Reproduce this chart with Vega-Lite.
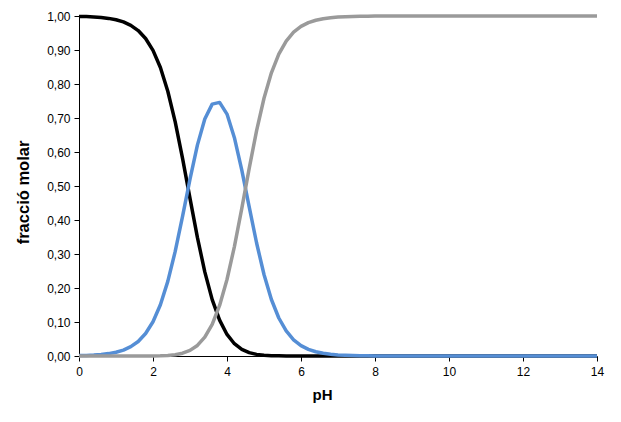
{
  "$schema": "https://vega.github.io/schema/vega-lite/v6.json",
  "width": 518,
  "height": 340,
  "autosize": {"type": "none"},
  "padding": {"left": 79, "top": 16, "right": 24, "bottom": 66},
  "background": "white",
  "config": {
    "view": {"stroke": null},
    "font": "Liberation Sans"
  },
  "data": {
    "values": [
      {"pH": 0.0, "H2A": 0.99888, "HA": 0.00112, "A": 0.0},
      {"pH": 0.2, "H2A": 0.99822, "HA": 0.00177, "A": 0.0},
      {"pH": 0.4, "H2A": 0.99719, "HA": 0.00281, "A": 0.0},
      {"pH": 0.6, "H2A": 0.99555, "HA": 0.00445, "A": 0.0},
      {"pH": 0.8, "H2A": 0.99297, "HA": 0.00703, "A": 0.0},
      {"pH": 1.0, "H2A": 0.9889, "HA": 0.0111, "A": 0.0},
      {"pH": 1.2, "H2A": 0.98252, "HA": 0.01747, "A": 0.00001},
      {"pH": 1.4, "H2A": 0.97257, "HA": 0.02741, "A": 0.00002},
      {"pH": 1.6, "H2A": 0.95719, "HA": 0.04276, "A": 0.00005},
      {"pH": 1.8, "H2A": 0.93377, "HA": 0.0661, "A": 0.00013},
      {"pH": 2.0, "H2A": 0.89883, "HA": 0.10085, "A": 0.00032},
      {"pH": 2.2, "H2A": 0.84838, "HA": 0.15087, "A": 0.00076},
      {"pH": 2.4, "H2A": 0.77877, "HA": 0.21949, "A": 0.00174},
      {"pH": 2.6, "H2A": 0.68857, "HA": 0.30757, "A": 0.00387},
      {"pH": 2.8, "H2A": 0.5807, "HA": 0.41111, "A": 0.0082},
      {"pH": 3.0, "H2A": 0.4635, "HA": 0.52006, "A": 0.01645},
      {"pH": 3.2, "H2A": 0.34875, "HA": 0.62017, "A": 0.03108},
      {"pH": 3.4, "H2A": 0.24739, "HA": 0.69722, "A": 0.05538},
      {"pH": 3.6, "H2A": 0.16586, "HA": 0.74087, "A": 0.09327},
      {"pH": 3.8, "H2A": 0.10535, "HA": 0.74583, "A": 0.14881},
      {"pH": 4.0, "H2A": 0.06342, "HA": 0.71157, "A": 0.22502},
      {"pH": 4.2, "H2A": 0.03611, "HA": 0.64209, "A": 0.32181},
      {"pH": 4.4, "H2A": 0.01939, "HA": 0.5465, "A": 0.43411},
      {"pH": 4.6, "H2A": 0.00981, "HA": 0.43834, "A": 0.55185},
      {"pH": 4.8, "H2A": 0.00469, "HA": 0.33229, "A": 0.66302},
      {"pH": 5.0, "H2A": 0.00214, "HA": 0.23974, "A": 0.75812},
      {"pH": 5.2, "H2A": 0.00093, "HA": 0.16618, "A": 0.83289},
      {"pH": 5.4, "H2A": 0.0004, "HA": 0.11177, "A": 0.88783},
      {"pH": 5.6, "H2A": 0.00016, "HA": 0.07357, "A": 0.92626},
      {"pH": 5.8, "H2A": 0.00007, "HA": 0.04772, "A": 0.95221},
      {"pH": 6.0, "H2A": 0.00003, "HA": 0.03065, "A": 0.96932},
      {"pH": 6.2, "H2A": 0.00001, "HA": 0.01956, "A": 0.98043},
      {"pH": 6.4, "H2A": 0.0, "HA": 0.01243, "A": 0.98757},
      {"pH": 6.6, "H2A": 0.0, "HA": 0.00788, "A": 0.99212},
      {"pH": 6.8, "H2A": 0.0, "HA": 0.00499, "A": 0.99501},
      {"pH": 7.0, "H2A": 0.0, "HA": 0.00315, "A": 0.99685},
      {"pH": 7.2, "H2A": 0.0, "HA": 0.00199, "A": 0.99801},
      {"pH": 7.4, "H2A": 0.0, "HA": 0.00126, "A": 0.99874},
      {"pH": 7.6, "H2A": 0.0, "HA": 0.00079, "A": 0.99921},
      {"pH": 7.8, "H2A": 0.0, "HA": 0.0005, "A": 0.9995},
      {"pH": 8.0, "H2A": 0.0, "HA": 0.00032, "A": 0.99968},
      {"pH": 8.2, "H2A": 0.0, "HA": 0.0002, "A": 0.9998},
      {"pH": 8.4, "H2A": 0.0, "HA": 0.00013, "A": 0.99987},
      {"pH": 8.6, "H2A": 0.0, "HA": 0.00008, "A": 0.99992},
      {"pH": 8.8, "H2A": 0.0, "HA": 0.00005, "A": 0.99995},
      {"pH": 9.0, "H2A": 0.0, "HA": 0.00003, "A": 0.99997},
      {"pH": 10.0, "H2A": 0.0, "HA": 0.0, "A": 1.0},
      {"pH": 11.0, "H2A": 0.0, "HA": 0.0, "A": 1.0},
      {"pH": 12.0, "H2A": 0.0, "HA": 0.0, "A": 1.0},
      {"pH": 13.0, "H2A": 0.0, "HA": 0.0, "A": 1.0},
      {"pH": 14.0, "H2A": 0.0, "HA": 0.0, "A": 1.0}
    ]
  },
  "transform": [
    {"fold": ["H2A", "HA", "A"], "as": ["species", "value"]}
  ],
  "mark": {"type": "line", "strokeWidth": 3.5, "strokeCap": "butt", "strokeJoin": "round", "clip": false},
  "encoding": {
    "x": {
      "field": "pH",
      "type": "quantitative",
      "scale": {"domain": [0, 14], "nice": false, "zero": false},
      "axis": {
        "values": [0, 2, 4, 6, 8, 10, 12, 14],
        "grid": false,
        "domainColor": "black",
        "domainWidth": 1,
        "tickColor": "black",
        "tickSize": 5,
        "labelFontSize": 12,
        "labelColor": "black",
        "labelPadding": 5,
        "labelFlush": false,
        "title": "pH",
        "titleFontSize": 15,
        "titleFontWeight": "bold",
        "titleColor": "black",
        "titleX": 243,
        "titleY": 43,
        "titleAlign": "center",
        "titleBaseline": "alphabetic"
      }
    },
    "y": {
      "field": "value",
      "type": "quantitative",
      "scale": {"domain": [0, 1], "nice": false},
      "axis": {
        "values": [0, 0.1, 0.2, 0.3, 0.4, 0.5, 0.6, 0.7, 0.8, 0.9, 1.0],
        "labelExpr": "replace(format(datum.value, '.2f'), '.', ',')",
        "grid": false,
        "domainColor": "black",
        "domainWidth": 1,
        "tickColor": "black",
        "tickSize": 5,
        "labelFontSize": 12,
        "labelColor": "black",
        "labelPadding": 4,
        "labelFlush": false,
        "title": "fracció molar",
        "titleFontSize": 16.5,
        "titleFontWeight": "bold",
        "titleColor": "black",
        "titleAngle": -90,
        "titleX": -51,
        "titleY": 176,
        "titleAlign": "center",
        "titleBaseline": "alphabetic"
      }
    },
    "color": {
      "field": "species",
      "type": "nominal",
      "scale": {"domain": ["H2A", "HA", "A"], "range": ["#000000", "#558ed5", "#9a9a9a"]},
      "legend": null
    }
  }
}
